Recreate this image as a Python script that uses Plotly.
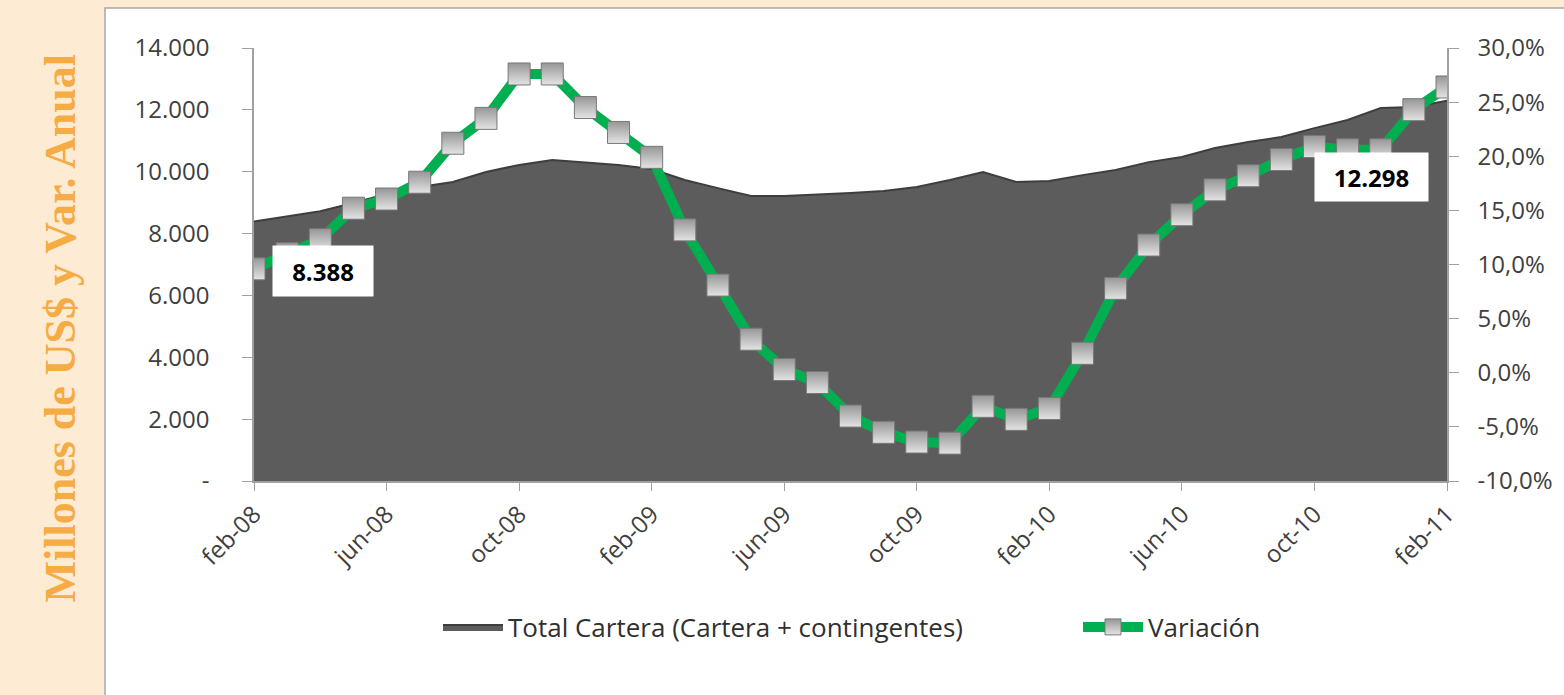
import plotly.graph_objects as go

months = ["feb-08", "mar-08", "abr-08", "may-08", "jun-08", "jul-08", "ago-08", "sep-08",
          "oct-08", "nov-08", "dic-08", "ene-09", "feb-09", "mar-09", "abr-09", "may-09",
          "jun-09", "jul-09", "ago-09", "sep-09", "oct-09", "nov-09", "dic-09", "ene-10",
          "feb-10", "mar-10", "abr-10", "may-10", "jun-10", "jul-10", "ago-10", "sep-10",
          "oct-10", "nov-10", "dic-10", "ene-11", "feb-11"]

total_cartera = [8388, 8550, 8720, 8990, 9280, 9505, 9670, 9990, 10220, 10380, 10310, 10220,
                 10090, 9730, 9470, 9214, 9214, 9250, 9310, 9380, 9505, 9730, 9990, 9670,
                 9700, 9890, 10055, 10310, 10475, 10766, 10960, 11120, 11410, 11670, 12060,
                 12090, 12298]

variacion = [9.6, 11.0, 12.3, 15.2, 16.05, 17.6, 21.2, 23.5, 27.6, 27.6, 24.5, 22.2,
             19.9, 13.2, 8.1, 3.1, 0.3, -0.9, -4.0, -5.5, -6.4, -6.5, -3.1, -4.3,
             -3.3, 1.8, 7.8, 11.8, 14.6, 16.9, 18.2, 19.7, 20.9, 20.6, 20.6, 24.3, 26.4]

tick_months = ["feb-08", "jun-08", "oct-08", "feb-09", "jun-09", "oct-09", "feb-10",
               "jun-10", "oct-10", "feb-11"]

left_ticks = [0, 2000, 4000, 6000, 8000, 10000, 12000, 14000]
left_text = ["-", "2.000", "4.000", "6.000", "8.000", "10.000", "12.000", "14.000"]
right_ticks = [-10, -5, 0, 5, 10, 15, 20, 25, 30]
right_text = ["-10,0%", "-5,0%", "0,0%", "5,0%", "10,0%", "15,0%", "20,0%", "25,0%", "30,0%"]

name_area = "Total Cartera (Cartera + contingentes)"
name_line = "Variación"
y_title = "Millones de US$ y Var. Anual"

# geometry (pixels)
W, H = 1564, 695
PL, PR, PT, PB = 254, 1447, 48, 481
pw, ph = PR - PL, PB - PT


def px_x(p):
    return (p - PL) / pw


def px_y(p):
    return (PB - p) / ph


def fmt_thousands(v):
    return f"{v:,}".replace(",", ".")


font_family = "Open Sans, Noto Sans, sans-serif"
text_col = "#404040"
beige = "#FDEBD3"

fig = go.Figure()

fig.add_trace(go.Scatter(
    x=months, y=total_cartera, name=name_area, mode="lines",
    fill="tozeroy", fillcolor="rgb(92,92,92)",
    line=dict(color="rgb(62,62,62)", width=2),
    yaxis="y", legend="legend",
))

fig.add_trace(go.Scatter(
    x=months, y=variacion, name=name_line, mode="lines+markers",
    line=dict(color="#00B050", width=10),
    marker=dict(symbol="square", size=22, color="rgb(150,150,150)",
                gradient=dict(type="vertical", color="rgb(228,228,228)"),
                line=dict(color="rgb(120,120,120)", width=1)),
    yaxis="y2", legend="legend2",
))

shapes = [
    dict(type="rect", xref="paper", yref="paper",
         x0=px_x(105), x1=px_x(W + 5), y0=px_y(H + 5), y1=px_y(8),
         fillcolor="white", line=dict(color="#a8a8a8", width=1.5), layer="below"),
]

annotations = [
    dict(xref="paper", yref="paper", x=px_x(33), y=px_y(328), text=f"<b>{y_title}</b>",
         textangle=-90, showarrow=False,
         font=dict(family="Liberation Serif, DejaVu Serif, serif", size=44, color="#F5AC45")),
    dict(x=months[0], y=total_cartera[0], xref="x", yref="y",
         text=f"<b>{fmt_thousands(total_cartera[0])}</b>", showarrow=False,
         xshift=69, yshift=-49, bgcolor="white", borderpad=7, width=86, height=36,
         font=dict(family=font_family, size=24, color="black")),
    dict(x=months[-1], y=total_cartera[-1], xref="x", yref="y",
         text=f"<b>{fmt_thousands(total_cartera[-1])}</b>", showarrow=False,
         xshift=-76, yshift=-76, bgcolor="white", borderpad=7, width=99, height=34,
         font=dict(family=font_family, size=24, color="black")),
]

legend_common = dict(orientation="h", yanchor="middle", y=px_y(627),
                     font=dict(size=26, color="#303030"), bgcolor="rgba(0,0,0,0)",
                     itemwidth=60, xanchor="left")

fig.update_layout(
    width=W, height=H,
    margin=dict(l=PL, r=W - PR, t=PT, b=H - PB, autoexpand=False),
    paper_bgcolor=beige,
    plot_bgcolor="rgba(0,0,0,0)",
    font=dict(family=font_family, size=24, color=text_col),
    showlegend=True,
    legend=dict(legend_common, x=px_x(438)),
    legend2=dict(legend_common, x=px_x(1078)),
    xaxis=dict(type="category", range=[0, len(months) - 1], tickmode="array",
               tickvals=tick_months, ticktext=tick_months, tickangle=-45,
               showgrid=False, zeroline=False, showline=True, linecolor="#a0a0a0",
               linewidth=1.5, ticks="outside", ticklen=8, tickcolor="#a0a0a0",
               tickfont=dict(size=24, color=text_col)),
    yaxis=dict(range=[0, 14000], tickmode="array", tickvals=left_ticks, ticktext=left_text,
               showgrid=False, zeroline=False, showline=True, linecolor="#a0a0a0",
               linewidth=1.5, ticks="outside", ticklen=10, tickcolor="#a0a0a0",
               ticklabelstandoff=28, tickfont=dict(size=24, color=text_col)),
    yaxis2=dict(range=[-10, 30], overlaying="y", side="right", tickmode="array",
                tickvals=right_ticks, ticktext=right_text,
                showgrid=False, zeroline=False, showline=True, linecolor="#a0a0a0",
                linewidth=1.5, ticks="outside", ticklen=10, tickcolor="#a0a0a0",
                ticklabelstandoff=14, tickfont=dict(size=24, color=text_col)),
    shapes=shapes,
    annotations=annotations,
)

fig.write_html(
    "out.html",
    config={"displayModeBar": False},
    post_script=(f"document.body.style.margin='0';"
                 f"document.body.style.background='{beige}';"
                 "document.documentElement.style.overflow='hidden';"),
)
